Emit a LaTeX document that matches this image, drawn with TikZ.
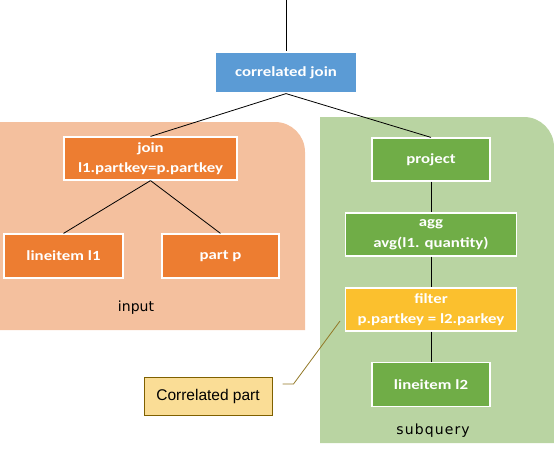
\documentclass[tikz,border=0pt]{standalone}
\usepackage{fontspec}
\newfontfamily\boxfont[FakeStretch=1.2]{Carlito}
\newfontfamily\labelfont{DejaVu Sans}
\newfontfamily\spacedfont[LetterSpace=8]{DejaVu Sans}
\newfontfamily\notefont{Liberation Sans}

\definecolor{joinblue}{HTML}{5B9BD5}
\definecolor{inorange}{HTML}{ED7D31}
\definecolor{inputbg}{HTML}{F4C09E}
\definecolor{subgreen}{HTML}{70AD47}
\definecolor{subbg}{HTML}{B9D4A2}
\definecolor{filteryellow}{HTML}{FBC02E}
\definecolor{notefill}{HTML}{FADD96}
\definecolor{notebrown}{HTML}{7F6000}

\begin{document}
\begin{tikzpicture}[x=1pt, y=-1pt, node distance=75pt]
    \tikzstyle{op} = [rectangle, draw=white, line width=1.2pt, text=white, align=center, inner sep=0pt, font=\boxfont\bfseries\fontsize{14}{20.5}\selectfont]
    \tikzstyle{line} = [draw, line width=0.8pt]
    \tikzstyle{note} = [rectangle, draw=notebrown, fill=notefill, line width=1pt, minimum width=128pt, minimum height=38pt, font=\notefont\fontsize{15.5}{18}\selectfont]
    \tikzstyle{leader} = [draw=notebrown!85, line width=0.8pt]
    \useasboundingbox (0,0) rectangle (554,451);

    % input and subquery areas
    \fill[inputbg] (0,330) -- (0,122) -- (275,122) arc[start angle=-90, end angle=0, radius=30] -- (305,330) -- cycle;
    \fill[subbg] (320,443) -- (320,117) -- (524,117) arc[start angle=-90, end angle=0, radius=30] -- (554,443) -- cycle;

    \coordinate (top) at (286,0);
    \node [op, fill=joinblue, minimum width=141pt, minimum height=41pt] (cj) at (286,72.5) {correlated join};

    \node [op, fill=inorange, minimum width=173pt, minimum height=43pt] (join) at (150.5,158.5) {join\\l1.partkey=p.partkey};
    \node [op, fill=inorange, minimum width=119pt, minimum height=44pt] (l1) at (63.5,256) {lineitem l1};
    \node [op, fill=inorange, minimum width=117pt, minimum height=44pt] (part) at (220.5,256) {part p};
    \node [font=\labelfont\fontsize{14}{16}\selectfont] (inputlbl) at (136,308) {input};

    \node [op, fill=subgreen, minimum width=118pt, minimum height=43pt] (project) at (431,159.5) {project};
    \node [op, fill=subgreen, minimum width=171pt, minimum height=43pt, below of=project] (agg) {agg\\avg(l1. quantity)};
    \node [op, fill=filteryellow, minimum width=171pt, minimum height=43pt, below of=agg] (filter) {filter\\p.partkey = l2.parkey};
    \node [op, fill=subgreen, minimum width=118pt, minimum height=44pt, below of=filter] (l2) {lineitem l2};
    \node [font=\spacedfont\fontsize{14}{16}\selectfont] (sublbl) at (433,431) {subquery};

    \node [note] (corr) at (208,396) {Correlated part};
    \coordinate (tip) at (340,321);

    \draw [line] (top) -- (cj);
    \draw [line] (cj.south) -- (join.north);
    \draw [line] (cj.south) -- (project.north);
    \draw [line] (join.south) -- (l1.north);
    \draw [line] (join.south) -- (part.north);
    \draw [line] (project) -- (agg);
    \draw [line] (agg) -- (filter);
    \draw [line] (filter) -- (l2);
    \draw [leader] ([xshift=10pt, yshift=12pt]corr.east) -- ++(11,0) -- (tip);
\end{tikzpicture}
\end{document}
